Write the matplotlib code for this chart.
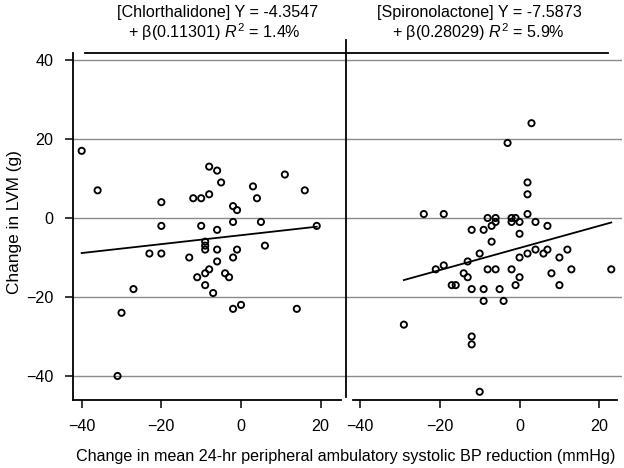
import numpy as np
import matplotlib
matplotlib.use('Agg')
import matplotlib.pyplot as plt
from matplotlib.lines import Line2D

plt.rcParams['font.family'] = ['Liberation Sans', 'DejaVu Sans']
plt.rcParams['mathtext.fontset'] = 'custom'
plt.rcParams['mathtext.rm'] = 'Liberation Sans'
plt.rcParams['mathtext.it'] = 'Liberation Sans:italic'

# Chlorthalidone: change in BP (x), change in LVM (y)
chl_x = [-40, -36, -8, -6, -5, 11, 3, 4, 16, -20, -12, -10, -8, -2, -1,
         -20, -10, -6, -2, 5, 19, -9, -9, -9, -23, -20, -13, -6, -1, 6,
         -2, -6, -8, -9, -11, -4, -3, -9, -7, -27, -30, -2, 0, 14, -31]
chl_y = [17, 7, 13, 12, 9, 11, 8, 5, 7, 4, 5, 5, 6, 3, 2,
         -2, -2, -3, -1, -1, -2, -6, -7, -8, -9, -9, -10, -8, -8, -7,
         -10, -11, -13, -14, -15, -14, -15, -17, -19, -18, -24, -23, -22, -23, -40]

# Spironolactone
spi_x = [3, -3, 2, 2, -24, -19, 2, -8, -6, -2, -1, -6, -7, -2, 0, 4, 7,
         -12, -9, 0, -7, -10, -13, -19, -21, -14, -13, -17, -16, -12, -9, -5,
         -9, -4, -8, -6, -2, 0, -1, 0, 2, 4, 6, 7, 12, 10, 8, 13, 10, 23,
         -29, -12, -12, -10]
spi_y = [24, 19, 9, 6, 1, 1, 1, 0, 0, 0, 0, -1, -2, -1, -1, -1, -2,
         -3, -3, -4, -6, -9, -11, -12, -13, -14, -15, -17, -17, -18, -18, -18,
         -21, -21, -13, -13, -13, -15, -17, -10, -9, -8, -9, -8, -8, -10, -14, -13, -17, -13,
         -27, -30, -32, -44]

# fitted lines from the titles
chl_fit = (-4.3547, 0.11301)
spi_fit = (-7.5873, 0.28029)

W, H = 624, 468
fig = plt.figure(figsize=(W / 100, H / 100), dpi=100)

def px_box(l, r, t, b):
    return [l / W, (H - b) / H, (r - l) / W, (b - t) / H]

ax1 = fig.add_axes(px_box(73, 346, 53, 400))
ax2 = fig.add_axes(px_box(346, 622, 53, 400))

ylim = (-46.08, 41.77)
fs = 11.6
panels = [
    (ax1, chl_x, chl_y, chl_fit, (-42.18, 26.35), (-42.18, 25.1), (-39.17, 26.35)),
    (ax2, spi_x, spi_y, spi_fit, (-43.51, 25.69), (-41.76, 24.44), (-43.51, 22.18)),
]
for ax, x, y, fit, xlim, bot_b, top_b in panels:
    ax.set_xlim(*xlim)
    ax.set_ylim(*ylim)
    ax.set_yticks([-40, -20, 0, 20, 40])
    ax.set_xticks([-40, -20, 0, 20])
    ax.grid(axis='y', color='#8a8a8a', linewidth=1.0)
    ax.set_axisbelow(True)
    ax.scatter(x, y, s=20, facecolors='none', edgecolors='black', linewidths=1.35, zorder=3)
    xs = np.array([min(x), max(x)])
    ax.plot(xs, fit[0] + fit[1] * xs, color='black', linewidth=1.3, zorder=4)
    ax.spines['right'].set_visible(False)
    ax.spines['bottom'].set_bounds(*bot_b)
    ax.spines['top'].set_bounds(*top_b)
    for sp in ax.spines.values():
        sp.set_linewidth(1.3)
    ax.tick_params(axis='x', direction='out', length=6, width=1.1, pad=7.5, labelsize=fs)
    ax.tick_params(axis='y', direction='out', length=6, width=1.1, pad=8, labelsize=fs)

ax2.spines['left'].set_visible(False)
ax2.tick_params(axis='y', left=False, labelleft=False)

fig.add_artist(Line2D([346 / W, 346 / W], [(H - 397) / H, (H - 40) / H],
                      color='black', linewidth=1.3))

fig.text(218 / W, 1 - 12 / H, '[Chlorthalidone] Y = -4.3547', ha='center', va='center', fontsize=fs)
fig.text(214 / W, 1 - 32 / H, r'+ β(0.11301) $R^2$ = 1.4%', ha='center', va='center', fontsize=fs)
fig.text(479 / W, 1 - 12 / H, '[Spironolactone] Y = -7.5873', ha='center', va='center', fontsize=fs)
fig.text(478 / W, 1 - 32 / H, r'+ β(0.28029) $R^2$ = 5.9%', ha='center', va='center', fontsize=fs)

fig.text(15 / W, 1 - 222 / H, 'Change in LVM (g)', rotation=90, ha='center', va='center', fontsize=12.4)
fig.text(346 / W, 1 - 456 / H,
         'Change in mean 24-hr peripheral ambulatory systolic BP reduction (mmHg)',
         ha='center', va='center', fontsize=fs)

fig.savefig('out.png', dpi=100)
